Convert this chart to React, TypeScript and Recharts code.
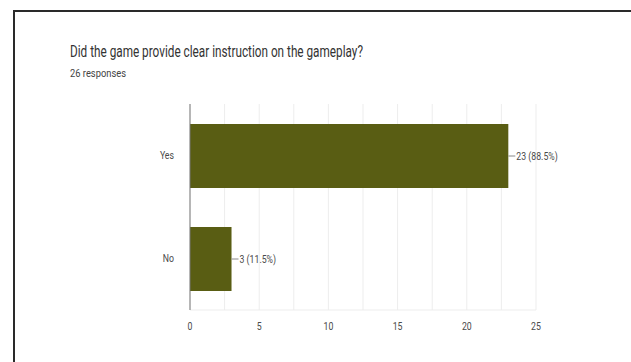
import React from "react";
import {
  BarChart,
  Bar,
  XAxis,
  YAxis,
  CartesianGrid,
  LabelList,
} from "recharts";

const question = "Did the game provide clear instruction on the gameplay?";
const totalResponses = 26;
const answers = ["Yes", "No"];
const counts = [23, 3];
const xTickLabels = [0, 5, 10, 15, 20, 25];
const gridTicks = [0, 2.5, 5, 7.5, 10, 12.5, 15, 17.5, 20, 22.5, 25];

const data = answers.map((answer, i) => ({
  answer,
  count: counts[i],
  pct: ((counts[i] / totalResponses) * 100).toFixed(1),
}));

const FONT = "Roboto, 'Noto Sans', sans-serif";
const SQUISH = 0.76;

// narrow text, scaled round its own x so anchors still line up
const Squished = ({ x, y, anchor = "start", children, size = 11.5, fill = "#4a4a4a" }: any) => (
  <text
    x={x}
    y={y}
    textAnchor={anchor}
    dominantBaseline="central"
    fontFamily={FONT}
    fontSize={size}
    fill={fill}
    transform={`translate(${x},0) scale(${SQUISH},1) translate(${-x},0)`}
  >
    {children}
  </text>
);

// grid runs every 2.5 but only the whole fives get a label
const XTick = ({ x, y, payload }: any) =>
  xTickLabels.includes(payload.value) ? (
    <Squished x={x} y={y + 8} anchor="middle">
      {payload.value}
    </Squished>
  ) : (
    <g />
  );

const YTick = ({ x, y, payload }: any) => (
  <Squished x={x - 8} y={y} anchor="end">
    {payload.value}
  </Squished>
);

const ValueLabel = ({ x, y, width, height, index }: any) => {
  const d = data[index];
  const end = x + width;
  const cy = y + height / 2;
  return (
    <g>
      <line x1={end} x2={end + 7} y1={cy} y2={cy} stroke="#888" strokeWidth={1} />
      <Squished x={end + 8} y={cy}>
        {`${d.count} (${d.pct}%)`}
      </Squished>
    </g>
  );
};

export default function App() {
  return (
    <div
      style={{
        position: "absolute",
        left: 0,
        top: 0,
        width: 631,
        height: 362,
        background: "#fff",
        overflow: "hidden",
      }}
    >
      <div
        style={{
          position: "absolute",
          left: 13,
          top: 10,
          width: 640,
          height: 360,
          borderLeft: "2px solid #2a2a2a",
          borderTop: "2px solid #2a2a2a",
        }}
      />
      <svg
        width={631}
        height={100}
        style={{ position: "absolute", left: 0, top: 0 }}
      >
        <text
          x={70}
          y={57}
          fontFamily={FONT}
          fontSize={17}
          fill="#333"
          textLength={293}
          lengthAdjust="spacingAndGlyphs"
        >
          {question}
        </text>
        <text
          x={70}
          y={77}
          fontFamily={FONT}
          fontSize={11}
          fill="#444"
          textLength={56}
          lengthAdjust="spacingAndGlyphs"
        >
          {`${totalResponses} responses`}
        </text>
      </svg>
      <div style={{ position: "absolute", left: 0, top: 0 }}>
        <BarChart
          width={631}
          height={362}
          data={data}
          layout="vertical"
          margin={{ top: 104, right: 95, bottom: 22, left: 150 }}
        >
          <CartesianGrid vertical horizontal={false} stroke="#ededed" />
          <XAxis
            xAxisId="top"
            orientation="top"
            type="number"
            domain={[0, 25]}
            height={0}
            tick={false}
            tickLine={false}
            axisLine={{ stroke: "#ededed" }}
          />
          <XAxis
            type="number"
            domain={[0, 25]}
            ticks={gridTicks}
            interval={0}
            height={30}
            tickLine={false}
            axisLine={{ stroke: "#ededed" }}
            tick={<XTick />}
          />
          <YAxis
            type="category"
            dataKey="answer"
            width={40}
            tickLine={false}
            axisLine={{ stroke: "#777" }}
            tick={<YTick />}
          />
          <Bar
            dataKey="count"
            fill="#595d13"
            barSize={64}
            isAnimationActive={false}
          >
            <LabelList dataKey="count" content={<ValueLabel />} />
          </Bar>
        </BarChart>
      </div>
    </div>
  );
}
